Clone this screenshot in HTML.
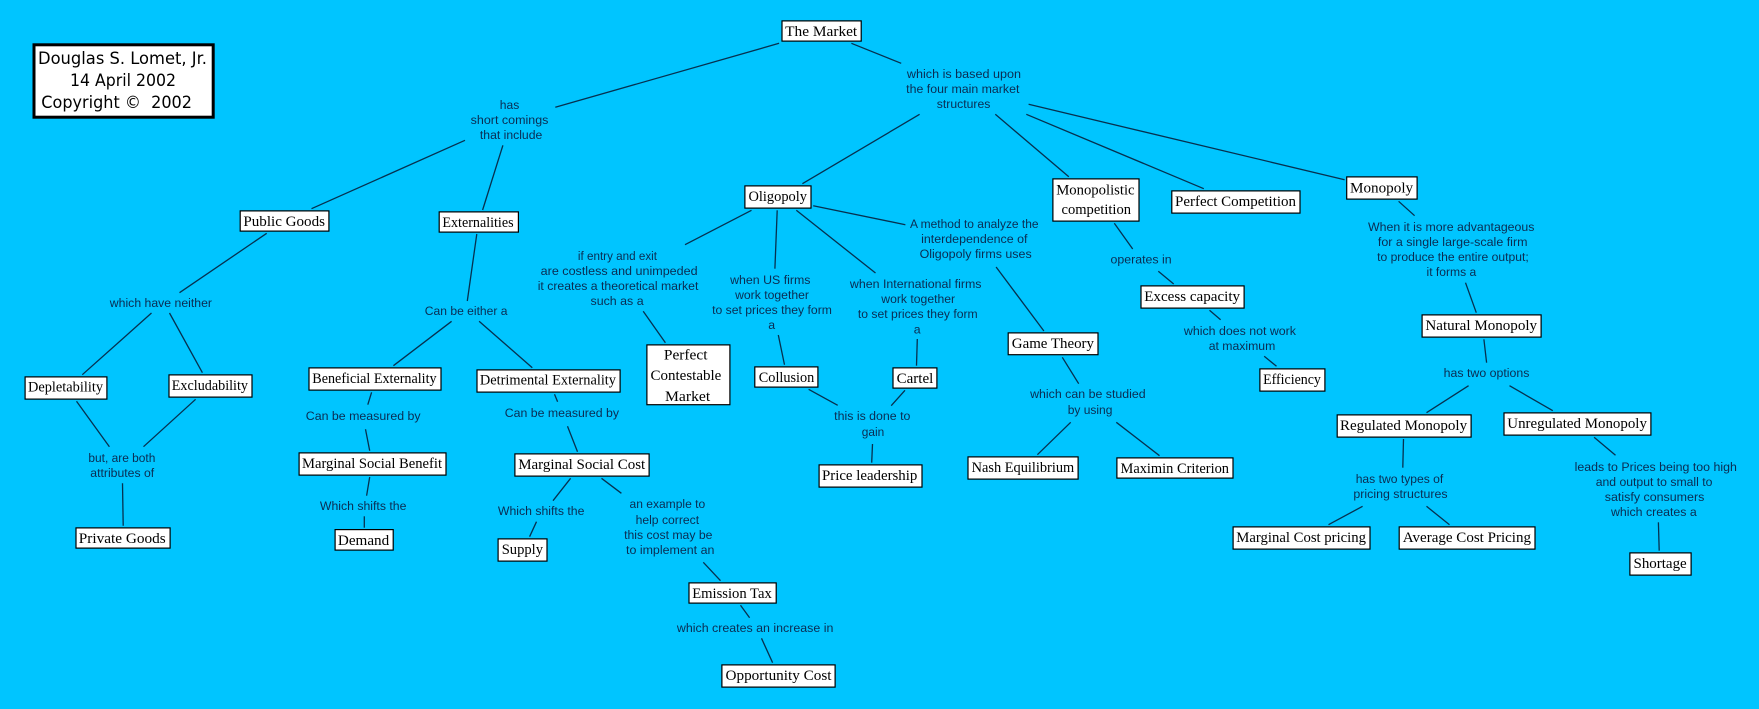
<!DOCTYPE html>
<html><head><meta charset="utf-8"><title>The Market</title>
<style>
html,body{margin:0;padding:0;background:#00c5ff;width:1759px;height:709px;overflow:hidden}
svg{display:block}
.n{font-family:"Liberation Serif",serif;font-size:15px;fill:#000}
.l{font-family:"Liberation Sans",sans-serif;font-size:12.3px;fill:#0a2c52}
.t{font-family:"DejaVu Sans","Liberation Sans",sans-serif;font-size:17px;fill:#000}
rect.b{fill:#fff;stroke:#000;stroke-width:1.2}
line{stroke:#06304f;stroke-width:1.3}
</style></head><body>
<svg xmlns="http://www.w3.org/2000/svg" width="1759" height="709" viewBox="0 0 1759 709">
<rect x="0" y="0" width="1759" height="709" fill="#00c5ff"/>
<!-- connectors -->
<line x1="779.1" y1="43.3" x2="555.3" y2="107.3"/>
<line x1="465" y1="140.3" x2="311.5" y2="208.7"/>
<line x1="502.9" y1="145.3" x2="482.6" y2="210"/>
<line x1="266.7" y1="233.3" x2="179.5" y2="292.7"/>
<line x1="476.8" y1="234" x2="467.3" y2="301"/>
<line x1="151.5" y1="313" x2="82.3" y2="374.7"/>
<line x1="169.5" y1="313" x2="202.4" y2="372.7"/>
<line x1="451.6" y1="321.3" x2="393.4" y2="365.7"/>
<line x1="479.1" y1="321.3" x2="532.3" y2="367.7"/>
<line x1="76.5" y1="401.3" x2="109.4" y2="446.7"/>
<line x1="195.6" y1="399.3" x2="143.5" y2="446.7"/>
<line x1="122.5" y1="483.3" x2="123.2" y2="525.7"/>
<line x1="371.6" y1="392.3" x2="367.8" y2="404.7"/>
<line x1="365.5" y1="429.3" x2="369.7" y2="450.7"/>
<line x1="369.7" y1="477" x2="366.6" y2="495.7"/>
<line x1="364.3" y1="516.3" x2="364.3" y2="527.7"/>
<line x1="554.5" y1="394.3" x2="557.6" y2="401.7"/>
<line x1="567.5" y1="426.3" x2="577.5" y2="451.7"/>
<line x1="570.6" y1="478.3" x2="553" y2="500.7"/>
<line x1="536.5" y1="521.7" x2="529.6" y2="536.7"/>
<line x1="601.5" y1="478.3" x2="621.4" y2="493.3"/>
<line x1="703.3" y1="562.3" x2="720.5" y2="580.7"/>
<line x1="740.5" y1="605.3" x2="749.6" y2="617.7"/>
<line x1="761.5" y1="638.3" x2="772.6" y2="662.7"/>
<line x1="808.6" y1="389.3" x2="837.7" y2="405.3"/>
<line x1="905" y1="390.3" x2="891.2" y2="405.7"/>
<line x1="872.5" y1="444" x2="871.7" y2="462.7"/>
<line x1="1062.3" y1="357.3" x2="1078.7" y2="383.7"/>
<line x1="1070.7" y1="422.3" x2="1037.4" y2="454.7"/>
<line x1="1116.3" y1="422.3" x2="1159.5" y2="455.7"/>
<line x1="851.4" y1="43.3" x2="901.2" y2="63.3"/>
<line x1="919.6" y1="114.3" x2="802.4" y2="183.7"/>
<line x1="995.3" y1="114.3" x2="1068.8" y2="176.7"/>
<line x1="1026.3" y1="114.3" x2="1203.8" y2="188.7"/>
<line x1="1028.6" y1="104.3" x2="1344.6" y2="179.7"/>
<line x1="751.5" y1="210.3" x2="685" y2="244.7"/>
<line x1="777.2" y1="210.3" x2="774.9" y2="268.7"/>
<line x1="796.3" y1="210.3" x2="875.5" y2="273"/>
<line x1="813.2" y1="205.7" x2="905.4" y2="224.7"/>
<line x1="643.2" y1="311.3" x2="665.4" y2="342.7"/>
<line x1="778.3" y1="335" x2="784.5" y2="364.7"/>
<line x1="917.3" y1="339" x2="916.5" y2="365.7"/>
<line x1="996.1" y1="267" x2="1043.9" y2="331"/>
<line x1="1114.3" y1="223.3" x2="1132.7" y2="249"/>
<line x1="1158.3" y1="271.3" x2="1173.7" y2="284"/>
<line x1="1209.5" y1="310.3" x2="1220.6" y2="319.7"/>
<line x1="1264.2" y1="356.3" x2="1276.5" y2="366.3"/>
<line x1="1398.6" y1="201.3" x2="1414.6" y2="215.7"/>
<line x1="1465.5" y1="282.7" x2="1476.3" y2="312.7"/>
<line x1="1483.9" y1="339.3" x2="1486.6" y2="362.7"/>
<line x1="1468.6" y1="385.7" x2="1426.5" y2="412.7"/>
<line x1="1509.5" y1="385.7" x2="1552.8" y2="410.7"/>
<line x1="1403.5" y1="439" x2="1402.8" y2="467.7"/>
<line x1="1362.6" y1="506.3" x2="1328.5" y2="524.7"/>
<line x1="1426.5" y1="506.3" x2="1449.5" y2="524.7"/>
<line x1="1594.1" y1="437.3" x2="1615.5" y2="455.3"/>
<line x1="1658.4" y1="522.3" x2="1659.2" y2="550.7"/>
<!-- title box -->
<rect x="34" y="44.8" width="179.2" height="72.4" fill="#fff" stroke="#000" stroke-width="3"/>
<text class="t" x="38" y="64" textLength="169" lengthAdjust="spacingAndGlyphs">Douglas S. Lomet, Jr.</text>
<text class="t" x="70" y="86" textLength="106" lengthAdjust="spacingAndGlyphs">14 April 2002</text>
<text class="t" x="41.3" y="108" textLength="150.7" lengthAdjust="spacingAndGlyphs" xml:space="preserve">Copyright ©  2002</text>
<!-- nodes -->
<rect class="b" x="782" y="20.9" width="79.2" height="20.2"/>
<text class="n" x="785.2" y="36" textLength="72" lengthAdjust="spacingAndGlyphs">The Market</text>
<rect class="b" x="240.2" y="210.9" width="88.7" height="20.2"/>
<text class="n" x="243.4" y="226" textLength="81.6" lengthAdjust="spacingAndGlyphs">Public Goods</text>
<rect class="b" x="439.2" y="211.9" width="79.2" height="20.2"/>
<text class="n" x="442.4" y="227" textLength="71.2" lengthAdjust="spacingAndGlyphs">Externalities</text>
<rect class="b" x="25.1" y="376.9" width="81.8" height="22.2"/>
<text class="n" x="28" y="391.7" textLength="75" lengthAdjust="spacingAndGlyphs">Depletability</text>
<rect class="b" x="169" y="374.9" width="83" height="22.2"/>
<text class="n" x="171.8" y="390" textLength="76.2" lengthAdjust="spacingAndGlyphs">Excludability</text>
<rect class="b" x="309" y="367.9" width="132" height="22.2"/>
<text class="n" x="312.3" y="383" textLength="124.3" lengthAdjust="spacingAndGlyphs">Beneficial Externality</text>
<rect class="b" x="477" y="369.9" width="143.1" height="22.2"/>
<text class="n" x="479.9" y="384.7" textLength="136.1" lengthAdjust="spacingAndGlyphs">Detrimental Externality</text>
<rect class="b" x="299.1" y="452.9" width="146.9" height="22.2"/>
<text class="n" x="302" y="468" textLength="140" lengthAdjust="spacingAndGlyphs">Marginal Social Benefit</text>
<rect class="b" x="514.9" y="453.9" width="134.2" height="22.2"/>
<text class="n" x="518.2" y="469" textLength="127" lengthAdjust="spacingAndGlyphs">Marginal Social Cost</text>
<rect class="b" x="335.1" y="529.6" width="58.1" height="20.5"/>
<text class="n" x="337.9" y="545" textLength="51.3" lengthAdjust="spacingAndGlyphs">Demand</text>
<rect class="b" x="498.1" y="538.9" width="48.9" height="22.2"/>
<text class="n" x="501.7" y="554" textLength="41.3" lengthAdjust="spacingAndGlyphs">Supply</text>
<rect class="b" x="76" y="527.9" width="94.1" height="20.2"/>
<text class="n" x="78.8" y="543" textLength="86.9" lengthAdjust="spacingAndGlyphs">Private Goods</text>
<rect class="b" x="744.9" y="185.9" width="66.1" height="22.2"/>
<text class="n" x="748.5" y="201" textLength="58.5" lengthAdjust="spacingAndGlyphs">Oligopoly</text>
<rect class="b" x="1052.9" y="178.9" width="86.1" height="42.2"/>
<text class="n" x="1056.2" y="194.3" textLength="78.4" lengthAdjust="spacingAndGlyphs">Monopolistic</text>
<text class="n" x="1061.5" y="214" textLength="69.5" lengthAdjust="spacingAndGlyphs">competition</text>
<rect class="b" x="646.9" y="344.9" width="83" height="59.8"/>
<text class="n" x="663.9" y="359.3" textLength="43.6" lengthAdjust="spacingAndGlyphs">Perfect</text>
<text class="n" x="650.5" y="380" textLength="70.8" lengthAdjust="spacingAndGlyphs">Contestable</text>
<text class="n" x="665" y="401" textLength="45.2" lengthAdjust="spacingAndGlyphs">Market</text>
<rect class="b" x="1008.2" y="332.9" width="89.8" height="21.8"/>
<text class="n" x="1011.8" y="348" textLength="82.2" lengthAdjust="spacingAndGlyphs">Game Theory</text>
<rect class="b" x="754.8" y="366.9" width="63.1" height="20.2"/>
<text class="n" x="758.8" y="382" textLength="55.5" lengthAdjust="spacingAndGlyphs">Collusion</text>
<rect class="b" x="893" y="367.9" width="43.9" height="20.2"/>
<text class="n" x="896.6" y="383" textLength="36.7" lengthAdjust="spacingAndGlyphs">Cartel</text>
<rect class="b" x="819.1" y="464.9" width="102.9" height="22.2"/>
<text class="n" x="822" y="480" textLength="95.3" lengthAdjust="spacingAndGlyphs">Price leadership</text>
<rect class="b" x="968" y="456.9" width="110.1" height="22.2"/>
<text class="n" x="971.6" y="472" textLength="102.6" lengthAdjust="spacingAndGlyphs">Nash Equilibrium</text>
<rect class="b" x="1116.9" y="457.9" width="116.1" height="20.2"/>
<text class="n" x="1120.5" y="473" textLength="108.5" lengthAdjust="spacingAndGlyphs">Maximin Criterion</text>
<rect class="b" x="689" y="582.9" width="87.2" height="20.2"/>
<text class="n" x="692.2" y="598" textLength="79.6" lengthAdjust="spacingAndGlyphs">Emission Tax</text>
<rect class="b" x="721.9" y="664.9" width="113.2" height="22.2"/>
<text class="n" x="725.5" y="680" textLength="106" lengthAdjust="spacingAndGlyphs">Opportunity Cost</text>
<rect class="b" x="1171.8" y="190.9" width="128.2" height="22.2"/>
<text class="n" x="1175" y="206" textLength="121" lengthAdjust="spacingAndGlyphs">Perfect Competition</text>
<rect class="b" x="1346.7" y="176.9" width="70.4" height="22.2"/>
<text class="n" x="1350" y="192.3" textLength="63.1" lengthAdjust="spacingAndGlyphs">Monopoly</text>
<rect class="b" x="1141" y="285.9" width="103.1" height="22.2"/>
<text class="n" x="1144.2" y="301" textLength="95.9" lengthAdjust="spacingAndGlyphs">Excess capacity</text>
<rect class="b" x="1422.1" y="314.9" width="119" height="22.2"/>
<text class="n" x="1425.4" y="330" textLength="111.7" lengthAdjust="spacingAndGlyphs">Natural Monopoly</text>
<rect class="b" x="1259.9" y="368.9" width="65" height="22.2"/>
<text class="n" x="1263.1" y="384" textLength="57.8" lengthAdjust="spacingAndGlyphs">Efficiency</text>
<rect class="b" x="1337.2" y="414.9" width="133.9" height="22.2"/>
<text class="n" x="1340" y="430" textLength="127.1" lengthAdjust="spacingAndGlyphs">Regulated Monopoly</text>
<rect class="b" x="1504" y="412.9" width="146.9" height="22.2"/>
<text class="n" x="1507.3" y="428" textLength="139.6" lengthAdjust="spacingAndGlyphs">Unregulated Monopoly</text>
<rect class="b" x="1233.1" y="526.9" width="136.9" height="22.2"/>
<text class="n" x="1236.3" y="542" textLength="129.7" lengthAdjust="spacingAndGlyphs">Marginal Cost pricing</text>
<rect class="b" x="1399.2" y="526.9" width="135.8" height="22.2"/>
<text class="n" x="1402.8" y="542" textLength="128.2" lengthAdjust="spacingAndGlyphs">Average Cost Pricing</text>
<rect class="b" x="1629.9" y="552.9" width="61.2" height="22.2"/>
<text class="n" x="1633.5" y="568" textLength="53.2" lengthAdjust="spacingAndGlyphs">Shortage</text>
<!-- labels -->
<text class="l" x="499.8" y="109" textLength="19.5" lengthAdjust="spacingAndGlyphs">has</text>
<text class="l" x="470.7" y="124" textLength="77.7" lengthAdjust="spacingAndGlyphs">short comings</text>
<text class="l" x="479.9" y="139" textLength="62.4" lengthAdjust="spacingAndGlyphs">that include</text>
<text class="l" x="109.8" y="307" textLength="102.2" lengthAdjust="spacingAndGlyphs">which have neither</text>
<text class="l" x="424.8" y="315" textLength="82.7" lengthAdjust="spacingAndGlyphs">Can be either a</text>
<text class="l" x="577.9" y="260" textLength="79.1" lengthAdjust="spacingAndGlyphs">if entry and exit</text>
<text class="l" x="540.7" y="275" textLength="156.9" lengthAdjust="spacingAndGlyphs">are costless and unimpeded</text>
<text class="l" x="537.7" y="290" textLength="160.7" lengthAdjust="spacingAndGlyphs">it creates a theoretical market</text>
<text class="l" x="590.5" y="305" textLength="53.1" lengthAdjust="spacingAndGlyphs">such as a</text>
<text class="l" x="88.4" y="462" textLength="67" lengthAdjust="spacingAndGlyphs">but, are both</text>
<text class="l" x="90.3" y="477" textLength="63.9" lengthAdjust="spacingAndGlyphs">attributes of</text>
<text class="l" x="305.8" y="420" textLength="114.8" lengthAdjust="spacingAndGlyphs">Can be measured by</text>
<text class="l" x="504.8" y="417" textLength="114.2" lengthAdjust="spacingAndGlyphs">Can be measured by</text>
<text class="l" x="319.9" y="510" textLength="86.5" lengthAdjust="spacingAndGlyphs">Which shifts the</text>
<text class="l" x="497.9" y="515" textLength="86.5" lengthAdjust="spacingAndGlyphs">Which shifts the</text>
<text class="l" x="906.9" y="78" textLength="114.1" lengthAdjust="spacingAndGlyphs">which is based upon</text>
<text class="l" x="906.2" y="93" textLength="113.2" lengthAdjust="spacingAndGlyphs">the four main market</text>
<text class="l" x="936.8" y="108" textLength="53.6" lengthAdjust="spacingAndGlyphs">structures</text>
<text class="l" x="910" y="228" textLength="128.6" lengthAdjust="spacingAndGlyphs">A method to analyze the</text>
<text class="l" x="921.1" y="243" textLength="106.4" lengthAdjust="spacingAndGlyphs">interdependence of</text>
<text class="l" x="919.6" y="258" textLength="112.1" lengthAdjust="spacingAndGlyphs">Oligopoly firms uses</text>
<text class="l" x="1110.5" y="263.3" textLength="61.1" lengthAdjust="spacingAndGlyphs">operates in</text>
<text class="l" x="730.1" y="284" textLength="80.4" lengthAdjust="spacingAndGlyphs">when US firms</text>
<text class="l" x="735.1" y="299" textLength="73.9" lengthAdjust="spacingAndGlyphs">work together</text>
<text class="l" x="712.1" y="314" textLength="119.8" lengthAdjust="spacingAndGlyphs">to set prices they form</text>
<text class="l" x="768.2" y="329">a</text>
<text class="l" x="849.9" y="288" textLength="131.6" lengthAdjust="spacingAndGlyphs">when International firms</text>
<text class="l" x="881.3" y="303" textLength="73.8" lengthAdjust="spacingAndGlyphs">work together</text>
<text class="l" x="857.9" y="318" textLength="119.8" lengthAdjust="spacingAndGlyphs">to set prices they form</text>
<text class="l" x="913.8" y="333.3">a</text>
<text class="l" x="834.2" y="420" textLength="76.2" lengthAdjust="spacingAndGlyphs">this is done to</text>
<text class="l" x="861.8" y="436" textLength="22.5" lengthAdjust="spacingAndGlyphs">gain</text>
<text class="l" x="1030.1" y="398" textLength="115.6" lengthAdjust="spacingAndGlyphs">which can be studied</text>
<text class="l" x="1067.7" y="414" textLength="44.7" lengthAdjust="spacingAndGlyphs">by using</text>
<text class="l" x="629.5" y="508" textLength="75.7" lengthAdjust="spacingAndGlyphs">an example to</text>
<text class="l" x="635.6" y="524" textLength="63.5" lengthAdjust="spacingAndGlyphs">help correct</text>
<text class="l" x="624.1" y="539" textLength="88.4" lengthAdjust="spacingAndGlyphs">this cost may be</text>
<text class="l" x="626" y="554" textLength="88.4" lengthAdjust="spacingAndGlyphs">to implement an</text>
<text class="l" x="676.9" y="632" textLength="156.5" lengthAdjust="spacingAndGlyphs">which creates an increase in</text>
<text class="l" x="1368" y="231" textLength="166.4" lengthAdjust="spacingAndGlyphs">When it is more advantageous</text>
<text class="l" x="1377.9" y="246" textLength="149.6" lengthAdjust="spacingAndGlyphs">for a single large-scale firm</text>
<text class="l" x="1377.1" y="261" textLength="151.6" lengthAdjust="spacingAndGlyphs">to produce the entire output;</text>
<text class="l" x="1426.5" y="276" textLength="49.8" lengthAdjust="spacingAndGlyphs">it forms a</text>
<text class="l" x="1183.9" y="335" textLength="112.1" lengthAdjust="spacingAndGlyphs">which does not work</text>
<text class="l" x="1208.7" y="350" textLength="66.6" lengthAdjust="spacingAndGlyphs">at maximum</text>
<text class="l" x="1443.7" y="377" textLength="85.7" lengthAdjust="spacingAndGlyphs">has two options</text>
<text class="l" x="1355.7" y="483" textLength="87.6" lengthAdjust="spacingAndGlyphs">has two types of</text>
<text class="l" x="1353.4" y="498" textLength="94.2" lengthAdjust="spacingAndGlyphs">pricing structures</text>
<text class="l" x="1574.6" y="471" textLength="162.3" lengthAdjust="spacingAndGlyphs">leads to Prices being too high</text>
<text class="l" x="1595.7" y="486" textLength="116.7" lengthAdjust="spacingAndGlyphs">and output to small to</text>
<text class="l" x="1604.8" y="501" textLength="99.5" lengthAdjust="spacingAndGlyphs">satisfy consumers</text>
<text class="l" x="1611" y="516" textLength="85.7" lengthAdjust="spacingAndGlyphs">which creates a</text>
</svg>
</body></html>
